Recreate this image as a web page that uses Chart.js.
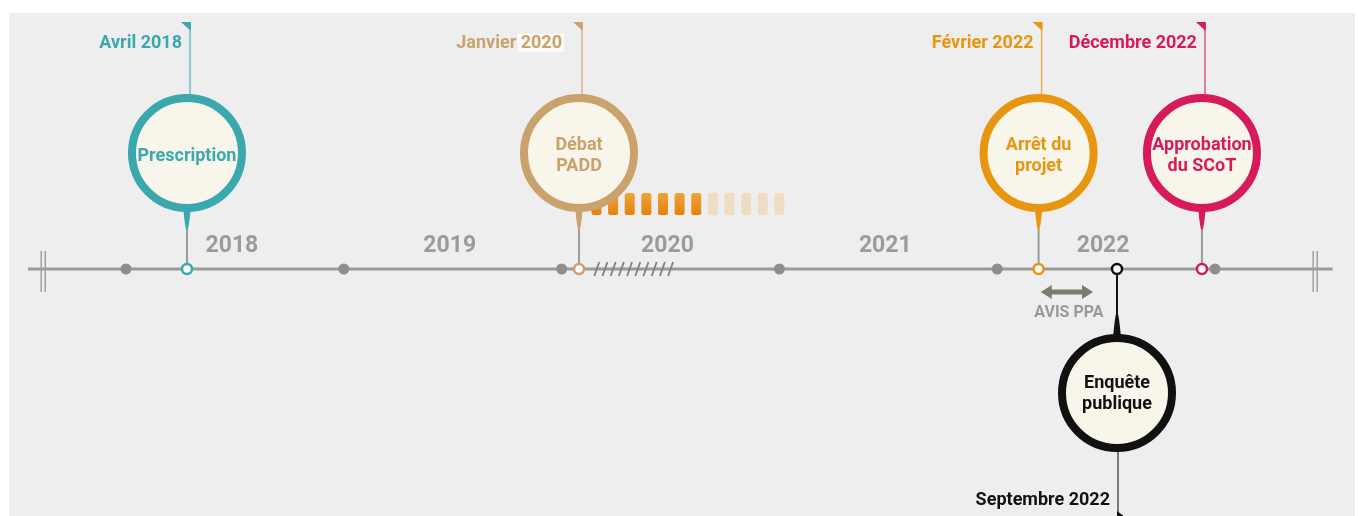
<!DOCTYPE html>
<html>
<head>
<meta charset="utf-8">
<script src="https://cdn.jsdelivr.net/npm/chart.js@4.4.1/dist/chart.umd.min.js"></script>
<style>
  html, body { margin: 0; padding: 0; background: #fff; }
  #wrap { width: 1358px; height: 516px; }
</style>
</head>
<body>
<div id="wrap"><canvas id="timeline"></canvas></div>
<script>
// Data
const yearStarts = [2018, 2019, 2020, 2021, 2022, 2023];
const yearLabels = ["2018", "2019", "2020", "2021", "2022"];
const eventDates = [2018.28, 2020.08, 2022.19, 2022.55, 2022.94];
const eventDateLabels = ["Avril 2018", "Janvier 2020", "Février 2022", "Septembre 2022", "Décembre 2022"];
const eventTitles = [["Prescription"], ["Débat", "PADD"], ["Arrêt du", "projet"], ["Enquête", "publique"], ["Approbation", "du SCoT"]];
const avisRange = [2022.2, 2022.44];
const avisLabel = "AVIS PPA";
const hatchRange = [2020.15, 2020.53];
const dashRange = [2020.16, 2021.0];
const dashActive = [1, 1, 1, 1, 1, 1, 1, 0, 0, 0, 0, 0];
const axisRange = [2017.55, 2023.54];
const axisBreaks = [2017.62, 2023.46];

// Styles
const eventColors = ["#3ba8ae", "#c9a26c", "#e8960f", "#111111", "#d71a5a"];
const eventSides = ["up", "up", "up", "down", "up"];
const labelGaps = [8, 20, 8, 8, 8];
const labelYearBox = [false, true, false, false, false];
const FONT = "Roboto, 'Noto Sans', sans-serif";

function drawBalloon(ctx, x, axisY, i) {
  const color = eventColors[i];
  const up = eventSides[i] === "up";
  const s = up ? -1 : 1;
  const R = 55;
  const cy = axisY + s * (up ? 116 : 124);
  const tipY = axisY + s * (up ? 40 : 45);
  const flagY = up ? 22 : 511;
  const stemX = up ? x + 3 : x + 1;

  ctx.save();
  // flag stem
  ctx.strokeStyle = color;
  ctx.globalAlpha = 0.7;
  ctx.lineWidth = 1.5;
  ctx.beginPath();
  ctx.moveTo(stemX, cy - s * R);
  ctx.lineTo(stemX, up ? flagY : 520);
  ctx.stroke();
  ctx.globalAlpha = 1;

  // flag
  ctx.fillStyle = color;
  ctx.beginPath();
  if (up) {
    ctx.moveTo(stemX - 9, flagY);
    ctx.lineTo(stemX + 0.8, flagY);
    ctx.lineTo(stemX + 0.8, flagY + 9);
  } else {
    ctx.moveTo(stemX - 1, flagY);
    ctx.lineTo(stemX + 7, flagY + 6);
    ctx.lineTo(stemX - 1, flagY + 6);
  }
  ctx.fill();

  // date label
  ctx.font = `bold 18px ${FONT}`;
  ctx.textAlign = "right";
  ctx.textBaseline = "middle";
  const lx = stemX - labelGaps[i];
  const ly = up ? 43 : 500;
  if (labelYearBox[i]) {
    const yearPart = eventDateLabels[i].split(" ").pop();
    const w = ctx.measureText(yearPart).width;
    ctx.fillStyle = "#fafaf6";
    ctx.fillRect(lx - w - 3, ly - 9, w + 5, 18);
    ctx.fillStyle = color;
  }
  ctx.fillText(eventDateLabels[i], lx, ly);

  // stem to the axis
  ctx.strokeStyle = up ? "#9a9a9a" : color;
  ctx.lineWidth = 2;
  ctx.beginPath();
  ctx.moveTo(x, tipY);
  ctx.lineTo(x, axisY);
  ctx.stroke();

  // pointer
  const baseY = cy + s * (R - 8);
  ctx.beginPath();
  ctx.moveTo(x - 11, baseY);
  ctx.quadraticCurveTo(x - 3, tipY - s * 10, x, tipY);
  ctx.quadraticCurveTo(x + 3, tipY - s * 10, x + 11, baseY);
  ctx.closePath();
  ctx.fill();

  // circle
  ctx.beginPath();
  ctx.arc(x, cy, R, 0, Math.PI * 2);
  ctx.fillStyle = "#f8f5eb";
  ctx.fill();
  ctx.lineWidth = 8;
  ctx.strokeStyle = color;
  ctx.stroke();

  // title
  ctx.fillStyle = color;
  ctx.textAlign = "center";
  ctx.font = `bold 18px ${FONT}`;
  const lines = eventTitles[i];
  const lh = 21;
  const ty = up ? cy + 3 : cy + 1;
  lines.forEach((t, k) => ctx.fillText(t, x, ty + (k - (lines.length - 1) / 2) * lh));
  ctx.restore();
}

const timelinePlugin = {
  id: "timeline",
  beforeDraw(chart) {
    const ctx = chart.ctx;
    ctx.save();
    ctx.fillStyle = "#ffffff";
    ctx.fillRect(0, 0, chart.width, chart.height);
    ctx.fillStyle = "#eeeeee";
    ctx.fillRect(9, 13, 1346, chart.height - 13);
    ctx.restore();
  },
  beforeDatasetsDraw(chart) {
    const ctx = chart.ctx;
    const xs = chart.scales.x;
    const axisY = chart.scales.y.getPixelForValue(0);
    ctx.save();

    // year labels
    ctx.font = `bold 23px ${FONT}`;
    ctx.fillStyle = "#9b9b9b";
    ctx.textAlign = "center";
    ctx.textBaseline = "middle";
    yearLabels.forEach((t, i) => {
      ctx.fillText(t, xs.getPixelForValue(yearStarts[i] + 0.5) - 3, axisY - 23);
    });

    // dashes
    const d0 = xs.getPixelForValue(dashRange[0]);
    const d1 = xs.getPixelForValue(dashRange[1]);
    const step = (d1 - d0) / (dashActive.length - 1);
    dashActive.forEach((on, k) => {
      const cx = d0 + k * step;
      if (on) {
        const g = ctx.createLinearGradient(0, axisY - 76, 0, axisY - 54);
        g.addColorStop(0, "#f0a23a");
        g.addColorStop(1, "#e5820c");
        ctx.fillStyle = g;
      } else {
        ctx.fillStyle = "#efdcc3";
      }
      ctx.beginPath();
      ctx.roundRect(cx - 5, axisY - 76, 10, 22, 2.5);
      ctx.fill();
    });

    // balloons
    eventDates.forEach((d, i) => drawBalloon(ctx, xs.getPixelForValue(d), axisY, i));

    // AVIS PPA arrow
    const a0 = xs.getPixelForValue(avisRange[0]);
    const a1 = xs.getPixelForValue(avisRange[1]);
    const ay = axisY + 23;
    ctx.fillStyle = "#7b7b70";
    ctx.fillRect(a0 + 8, ay - 2.5, a1 - a0 - 16, 5);
    ctx.beginPath();
    ctx.moveTo(a0, ay);
    ctx.lineTo(a0 + 11, ay - 7);
    ctx.lineTo(a0 + 11, ay + 7);
    ctx.closePath();
    ctx.moveTo(a1, ay);
    ctx.lineTo(a1 - 11, ay - 7);
    ctx.lineTo(a1 - 11, ay + 7);
    ctx.closePath();
    ctx.fill();
    ctx.font = `bold 16px ${FONT}`;
    ctx.fillStyle = "#999999";
    ctx.fillText(avisLabel, (a0 + a1) / 2 + 2, axisY + 44);
    ctx.restore();
  },
  afterDatasetsDraw(chart) {
    const ctx = chart.ctx;
    const xs = chart.scales.x;
    const axisY = chart.scales.y.getPixelForValue(0);
    ctx.save();

    // hatch on the axis
    const h0 = xs.getPixelForValue(hatchRange[0]);
    const h1 = xs.getPixelForValue(hatchRange[1]);
    ctx.strokeStyle = "#808080";
    ctx.lineWidth = 1.8;
    ctx.beginPath();
    for (let hx = h0; hx <= h1 - 5; hx += 8.2) {
      ctx.moveTo(hx, axisY + 7);
      ctx.lineTo(hx + 5, axisY - 7);
    }
    ctx.stroke();

    // axis breaks
    ctx.strokeStyle = "#a0a0a0";
    ctx.lineWidth = 1.5;
    ctx.beginPath();
    axisBreaks.forEach(b => {
      const bx = xs.getPixelForValue(b);
      [-2, 2].forEach(o => {
        ctx.moveTo(bx + o, axisY - 18);
        ctx.lineTo(bx + o, axisY + 23);
      });
    });
    ctx.stroke();
    ctx.restore();
  }
};

new Chart(document.getElementById("timeline"), {
  type: "scatter",
  data: {
    datasets: [
      {
        data: eventDates.map(d => ({ x: d, y: 0 })),
        pointRadius: 5,
        pointBorderWidth: 2.5,
        pointBackgroundColor: "#fbfbf5",
        pointBorderColor: eventColors,
        order: 1
      },
      {
        data: yearStarts.map(d => ({ x: d, y: 0 })),
        pointRadius: 5.5,
        pointBorderWidth: 0,
        pointBackgroundColor: "#8e8e8e",
        order: 2
      },
      {
        type: "line",
        data: axisRange.map(d => ({ x: d, y: 0 })),
        borderColor: "#9a9a9a",
        borderWidth: 3,
        pointRadius: 0,
        order: 3
      }
    ]
  },
  options: {
    responsive: true,
    maintainAspectRatio: false,
    animation: false,
    events: [],
    layout: { padding: 0, autoPadding: false },
    plugins: { legend: { display: false }, tooltip: { enabled: false } },
    scales: {
      x: { type: "linear", display: false, min: 2017.4215, max: 2023.6565 },
      y: { type: "linear", display: false, min: -247, max: 269 }
    }
  },
  plugins: [timelinePlugin]
});
</script>
</body>
</html>
